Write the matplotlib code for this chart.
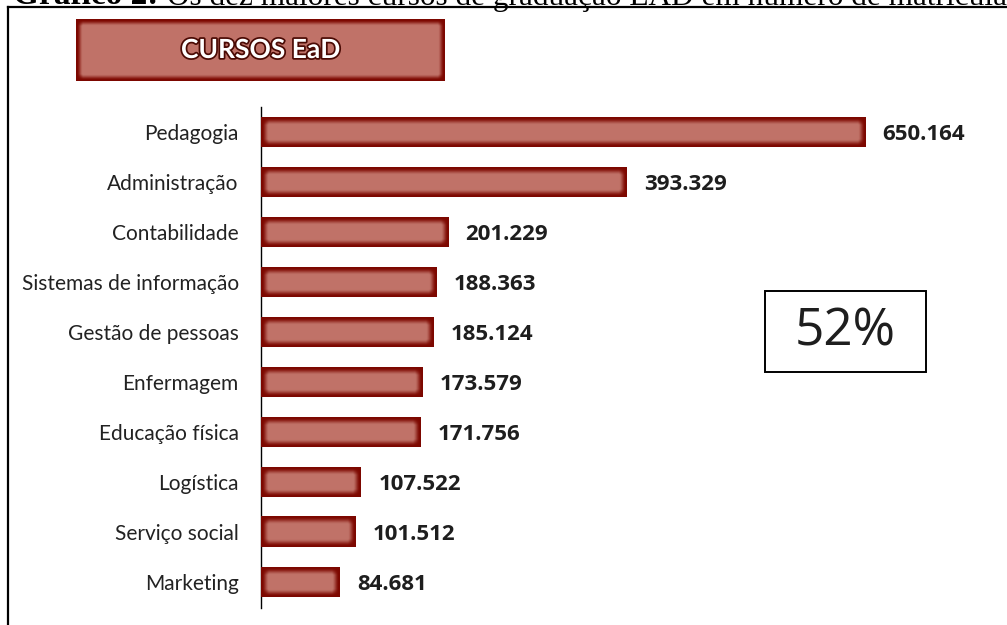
import numpy as np
import matplotlib
matplotlib.use('Agg')
import matplotlib.pyplot as plt
from matplotlib import font_manager
from matplotlib.lines import Line2D
from matplotlib.patches import Rectangle
import matplotlib.patheffects as pe

# Ten largest distance-learning (EaD) courses by enrolment
courses = ['Pedagogia', 'Administração', 'Contabilidade', 'Sistemas de informação',
           'Gestão de pessoas', 'Enfermagem', 'Educação física', 'Logística',
           'Serviço social', 'Marketing']
enrolments = [650164, 393329, 201229, 188363, 185124, 173579, 171756, 107522, 101512, 84681]
share_text = '52%'
banner_text = 'CURSOS EaD'
title_bold = 'Gráfico 2:'
title_rest = 'Os dez maiores cursos de graduação EAD em número de matrículas'

# a narrow face for the course names if one is around, Lato otherwise
installed = {f.name for f in font_manager.fontManager.ttflist}
if 'Liberation Sans Narrow' in installed:
    label_font, label_size = 'Liberation Sans Narrow', 17
    banner_font, banner_size = 'Liberation Sans Narrow', 22
else:
    label_font, label_size = 'Lato', 15
    banner_font, banner_size = 'Lato', 19

DARK = np.array([0.49, 0.03, 0.00])
LIGHT = np.array([0.755, 0.45, 0.41])


def glow(w_px, h_px, edge=1.0, soft=7.0):
    # dark red rim fading into a salmon centre
    xs = np.arange(w_px) + 0.5
    ys = np.arange(h_px) + 0.5
    dx = np.minimum(xs, w_px - xs)
    dy = np.minimum(ys, h_px - ys)
    tx = np.clip((dx - edge) / soft, 0, 1)
    ty = np.clip((dy - edge) / soft, 0, 1)
    t = tx[None, :] * ty[:, None]
    t = t * t * (3 - 2 * t)
    return DARK * (1 - t)[..., None] + LIGHT * t[..., None]


W, H = 1007, 625
fig = plt.figure(figsize=(W / 100, H / 100), dpi=100)

# caption line (runs off the top) and the frame around the chart
fig.text(13 / W, 1 - 4.5 / H, title_bold, fontfamily='Liberation Serif', fontweight='bold',
         fontsize=24, va='baseline', ha='left')
fig.text(167 / W, 1 - 4.5 / H, title_rest, fontfamily='Liberation Serif',
         fontsize=22.5, va='baseline', ha='left')
fig.add_artist(Line2D([8 / W, 8 / W], [0, 1 - 6.5 / H], transform=fig.transFigure,
                      color='black', lw=1.6))
fig.add_artist(Line2D([8 / W, 1], [1 - 6.5 / H, 1 - 6.5 / H], transform=fig.transFigure,
                      color='black', lw=1.6))

# banner
bax = fig.add_axes([76 / W, (H - 81) / H, 369 / W, 62 / H])
bax.imshow(glow(369, 62, edge=1.0, soft=6.0), aspect='auto', interpolation='bilinear')
bax.axis('off')
bax.text(0.5, 0.5, banner_text, transform=bax.transAxes, ha='center', va='center',
         color='white', fontweight='bold', fontfamily=banner_font, fontsize=banner_size,
         path_effects=[pe.withStroke(linewidth=2.5, foreground='#4a0a04')])

# bar chart
ax = fig.add_axes([261 / W, 17 / H, 739 / W, 501 / H])
ypos = np.arange(len(courses))
bars = ax.barh(ypos, enrolments, height=0.6, color=DARK, edgecolor='none', zorder=2)
ax.set_xlim(0, 795000)
ax.set_ylim(9.52, -0.5)

for b in bars:
    x0, y0, w, h = b.get_x(), b.get_y(), b.get_width(), b.get_height()
    (px0, py0), (px1, py1) = ax.transData.transform([(x0, y0), (x0 + w, y0 + h)])
    wp, hp = int(round(abs(px1 - px0))), int(round(abs(py1 - py0)))
    ax.imshow(glow(wp, hp), extent=(x0, x0 + w, y0 + h, y0), aspect='auto',
              interpolation='bilinear', zorder=3)

ax.set_xlim(0, 795000)
ax.set_ylim(9.52, -0.5)

for i, v in enumerate(enrolments):
    ax.annotate(f'{v:,}'.replace(',', '.'), xy=(v, i), xytext=(12.5, -1.5),
                textcoords='offset points', ha='left', va='center',
                fontfamily='Open Sans', fontweight='bold', fontsize=16, color='#1e1e1e')

for s in ['top', 'right', 'bottom']:
    ax.spines[s].set_visible(False)
ax.spines['left'].set_color('black')
ax.spines['left'].set_linewidth(1.0)
ax.set_xticks([])
ax.set_yticks(ypos)
ax.set_yticklabels(courses, fontfamily=label_font, fontsize=label_size, color='#222222')
ax.tick_params(axis='y', length=0, pad=16)

# share box
fig.add_artist(Rectangle((765 / W, (H - 372) / H), 161 / W, 81 / H, fill=False,
                         ec='black', lw=1.4, transform=fig.transFigure))
fig.text(845.5 / W, 1 - 331.5 / H, share_text, ha='center', va='center',
         fontfamily='Open Sans', fontsize=37, color='#1e1e1e')

fig.savefig('out.png', dpi=100)
